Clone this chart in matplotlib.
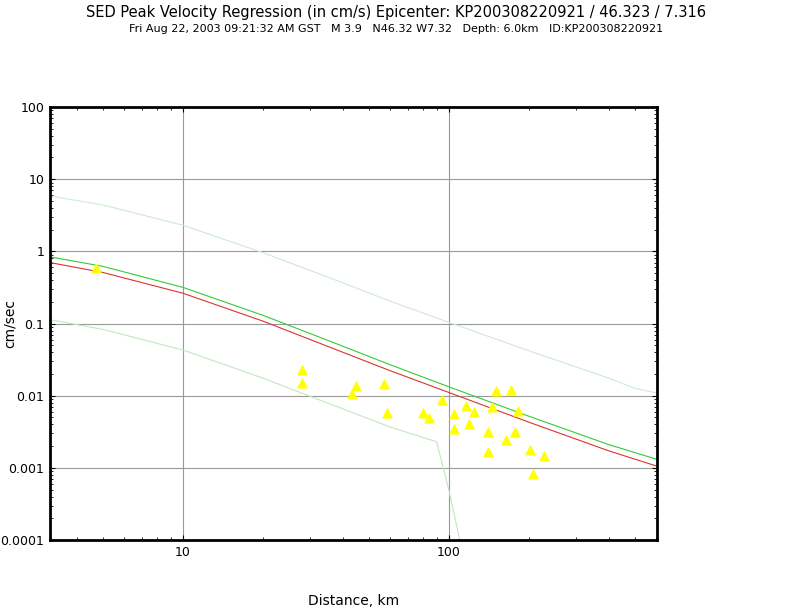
import matplotlib
matplotlib.use("Agg")
import matplotlib.pyplot as plt
from matplotlib.ticker import FixedLocator, NullFormatter

# observed stations
dist = [4.71, 28.0, 28.0, 44.7, 43.2, 57.0, 58.5, 79.8, 84.2, 94.2, 104.5, 104.5,
        116, 119, 124, 140, 140, 146, 151, 164, 171, 177, 182, 202, 207, 228]
pgv = [0.587, 0.0227, 0.0150, 0.0136, 0.0105, 0.0145, 0.00575, 0.00575, 0.0049,
       0.0087, 0.0056, 0.00345, 0.0072, 0.0041, 0.0059, 0.00314, 0.00166, 0.0070,
       0.0116, 0.00243, 0.0120, 0.00314, 0.0062, 0.00177, 0.00082, 0.00146]

# regression curves
reg_x = [3.16, 5, 10, 20, 35.7, 60, 100, 200, 400, 600]
green_y = [0.84, 0.62, 0.317, 0.13, 0.057, 0.027, 0.0133, 0.0052, 0.0021, 0.00133]
red_y = [0.70, 0.51, 0.263, 0.108, 0.047, 0.0223, 0.0111, 0.0043, 0.00172, 0.00107]
up_x = [3.16, 5, 10, 20, 35.7, 60, 100, 200, 400, 500, 600]
up_y = [5.85, 4.4, 2.3, 0.96, 0.43, 0.205, 0.104, 0.042, 0.0175, 0.0127, 0.011]
lo_x = [3.16, 5, 10, 20, 35.7, 60, 90, 100, 110]
lo_y = [0.113, 0.083, 0.043, 0.0175, 0.0077, 0.0037, 0.0023, 0.0005, 0.0001]

fig = plt.figure(figsize=(7.92, 6.12), dpi=100)
ax = fig.add_axes([0.063, 0.1176, 0.766, 0.7075])
ax.set_xscale("log")
ax.set_yscale("log")
ax.set_xlim(3.16, 605)
ax.set_ylim(0.0001, 100)

ax.plot(up_x, up_y, color="#d0ead0", lw=0.8)
ax.plot(lo_x, lo_y, color="#c0e8c0", lw=0.8)
ax.plot(reg_x, green_y, color="#33cc33", lw=0.8)
ax.plot(reg_x, red_y, color="#dd3333", lw=0.8)
ax.scatter(dist, pgv, marker="^", color="yellow", s=40, zorder=5)

ax.grid(True, which="major", color="#999999", lw=0.8)
ax.xaxis.set_major_locator(FixedLocator([10, 100]))
ax.set_xticklabels(["10", "100"])
ax.xaxis.set_minor_formatter(NullFormatter())
yt = [0.0001, 0.001, 0.01, 0.1, 1, 10, 100]
ax.yaxis.set_major_locator(FixedLocator(yt))
ax.set_yticklabels(["0.0001", "0.001", "0.01", "0.1", "1", "10", "100"])
ax.yaxis.set_minor_formatter(NullFormatter())
ax.tick_params(which="both", top=True, right=True, direction="in", labelsize=9, pad=4)
for s in ax.spines.values():
    s.set_linewidth(2)

ax.set_xlabel("Distance, km", fontsize=10)
ax.xaxis.set_label_coords(0.5, -0.125)
ax.set_ylabel("cm/sec", fontsize=10)
ax.yaxis.set_label_coords(-0.055, 0.5)

fig.text(0.5, 0.98, "SED Peak Velocity Regression (in cm/s) Epicenter: KP200308220921 / 46.323 / 7.316",
         ha="center", va="center", fontsize=10.5)
fig.text(0.5, 0.952, "Fri Aug 22, 2003 09:21:32 AM GST   M 3.9   N46.32 W7.32   Depth: 6.0km   ID:KP200308220921",
         ha="center", va="center", fontsize=8)

fig.savefig("out.png", dpi=100)
